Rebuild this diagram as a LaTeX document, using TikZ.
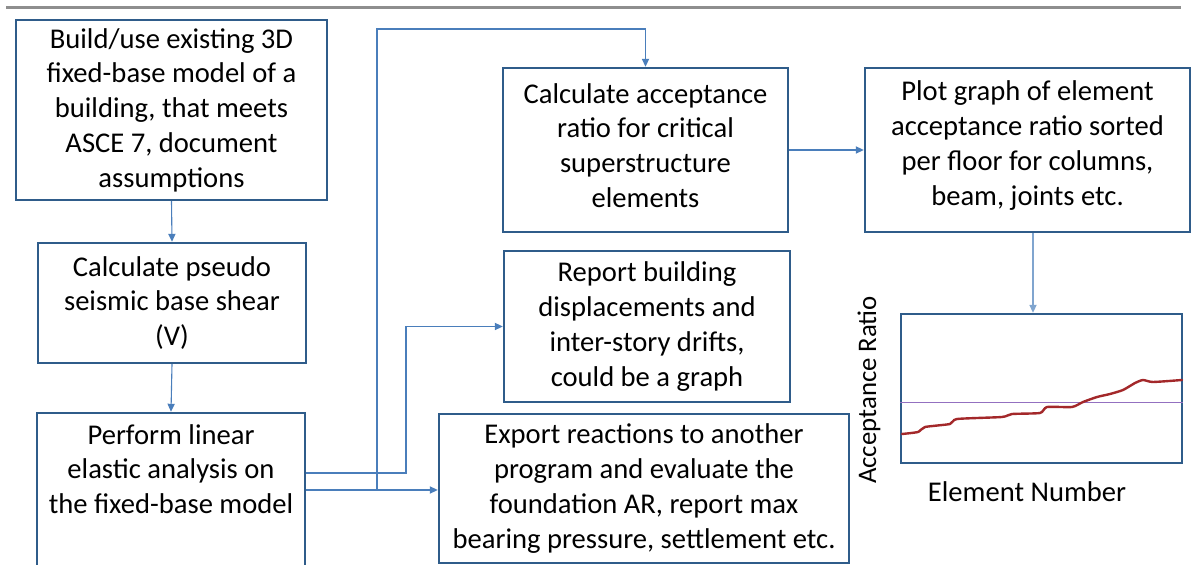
\documentclass[tikz,border=0pt]{standalone}
\usepackage{fontspec}
\setmainfont{Carlito}
\usetikzlibrary{arrows.meta,calc}
\definecolor{boxblue}{HTML}{2F5C8A}
\definecolor{connblue}{HTML}{4A7EBB}
\definecolor{curvered}{HTML}{A3282A}
\definecolor{limitpurple}{HTML}{9370C0}
\definecolor{rulegray}{HTML}{8E8E8E}
\tikzset{
  procbox/.style={draw=boxblue, line width=1.2pt, fill=white, inner sep=0pt, align=center,
    font=\fontsize{14.3pt}{17.4pt}\selectfont},
  txt/.style={inner sep=0pt, align=center, font=\fontsize{14.3pt}{17.4pt}\selectfont},
  conn/.style={draw=connblue, line width=0.55pt, -{Triangle[length=4pt,width=3.6pt]}},
}
\begin{document}
\begin{tikzpicture}[x=0.5pt,y=-0.5pt]
\useasboundingbox (0,0) rectangle (1193,565);
\clip (0,0) rectangle (1193,565);
% top rule
\coordinate (r1) at (6,8);
\coordinate (r2) at (1181,8);
\draw[rulegray, line width=1.5pt] (r1) -- (r2);

% boxes
\node[procbox, minimum width=155.5pt, minimum height=90pt] (A) at (171.5,110)
  {Build/use existing 3D\\fixed-base model of a\\building, that meets\\ASCE 7, document\\assumptions};
\node[procbox, minimum width=134pt, minimum height=60pt] (B) at (172,303)
  {Calculate pseudo\\seismic base shear\\(V)};
\node[procbox, minimum width=134pt, minimum height=100pt] (C) at (171,513) {};
\node[txt, anchor=north] (Ct) at ($(C.north)+(0,12)$)
  {Perform linear\\elastic analysis on\\the fixed-base model};
\node[procbox, minimum width=142.5pt, minimum height=82pt] (D) at (645.5,150) {};
\node[txt] (Dt) at ($(D.center)+(0,-4.5)$)
  {Calculate acceptance\\ratio for critical\\superstructure\\elements};
\node[procbox, minimum width=162.5pt, minimum height=82pt] (E) at (1027.5,150) {};
\node[txt] (Et) at ($(E.center)+(0,-4.5)$)
  {Plot graph of element\\acceptance ratio sorted\\per floor for columns,\\beam, joints etc.};
\node[procbox, minimum width=143pt, minimum height=75.5pt] (R) at (647,326.5)
  {Report building\\displacements and\\inter-story drifts,\\could be a graph};
\node[procbox, minimum width=205pt, minimum height=74.5pt] (X) at (644,488.5)
  {Export reactions to another\\program and evaluate the\\foundation AR, report max\\bearing pressure, settlement etc.};
\node[draw=boxblue, line width=1.2pt, inner sep=0pt, minimum width=140.5pt, minimum height=74.5pt] (G) at (1041.5,388.5) {};

% graph contents
\coordinate (lim) at (0,403);
\draw[limitpurple, line width=0.5pt] (G.west |- lim) -- (G.east |- lim);
\draw[curvered, line width=1.2pt, line cap=round] plot[smooth, tension=0.35] coordinates {
 (902,434) (918,432) (925,427) (950,424) (957,419) (1002,417) (1012,414) (1040,413)
 (1047,407) (1072,407) (1083,402) (1097,397) (1110,394) (1123,390) (1135,383)
 (1143,380) (1153,382) (1182,380)};
\node[txt, rotate=90, font=\fontsize{13.4pt}{15pt}\selectfont] (yl) at (869,390) {Acceptance Ratio};
\node[txt, font=\fontsize{14.3pt}{16pt}\selectfont] (xl) at (1027,492) {Element Number};

% connectors
\coordinate (y473) at (0,473);
\coordinate (y490) at (0,490);
\coordinate (vx) at (377,29);
\coordinate (vx2) at (406,0);
\coordinate (ax) at (1033,0);
\draw[conn] (A.south) -- (B.north);
\draw[conn] (B.south) -- (C.north);
\draw[conn] (C.east |- y490) -- (X.west |- y490);
\draw[conn] (C.east |- y490) -| (vx) -| (D.north);
\draw[conn] (C.east |- y473) -| (vx2 |- R.west) -- (R.west);
\draw[conn] (D.east) -- (E.west);
\draw[conn, draw=connblue!70] (E.south -| ax) -- (G.north -| ax);
\end{tikzpicture}
\end{document}
